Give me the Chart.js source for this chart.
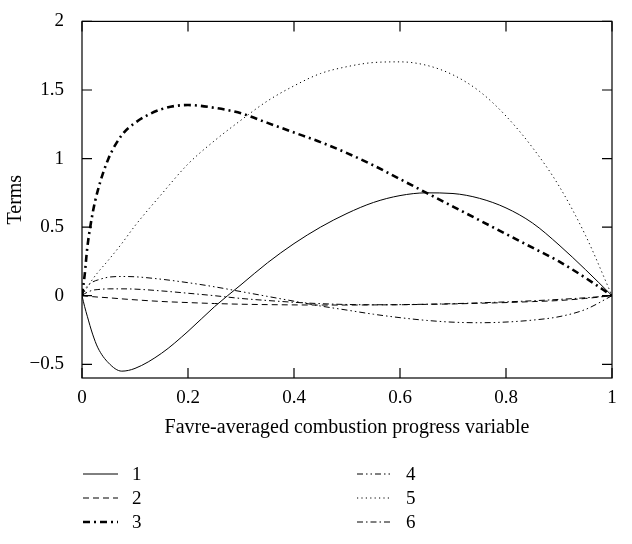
<!DOCTYPE html>
<html>
<head>
<meta charset="utf-8">
<script src="https://cdn.jsdelivr.net/npm/chart.js@4"></script>
<style>
  body { margin: 0; background: #fff; }
  #wrap { width: 632px; height: 544px; }
</style>
</head>
<body>
<div id="wrap"><canvas id="terms"></canvas></div>
<script>
const progress = [0, 0.005, 0.01, 0.02, 0.03, 0.05, 0.075, 0.1, 0.15, 0.2, 0.25, 0.3, 0.35, 0.4, 0.45, 0.5, 0.55, 0.6, 0.65, 0.7, 0.75, 0.8, 0.85, 0.9, 0.95, 1];

const term1 = [0, -0.08, -0.15, -0.28, -0.38, -0.49, -0.55, -0.53, -0.42, -0.26, -0.08, 0.08, 0.24, 0.38, 0.5, 0.6, 0.68, 0.73, 0.75, 0.745, 0.71, 0.64, 0.53, 0.37, 0.19, 0];
const term2 = [0, -0.002, -0.004, -0.007, -0.01, -0.015, -0.023, -0.03, -0.042, -0.05, -0.057, -0.062, -0.065, -0.067, -0.068, -0.068, -0.067, -0.066, -0.063, -0.06, -0.055, -0.05, -0.043, -0.035, -0.02, 0];
const term3 = [0, 0.15, 0.35, 0.6, 0.77, 1.0, 1.17, 1.26, 1.36, 1.39, 1.37, 1.33, 1.26, 1.19, 1.12, 1.04, 0.95, 0.85, 0.75, 0.65, 0.55, 0.45, 0.35, 0.25, 0.13, 0];
const term4 = [0, 0.04, 0.07, 0.1, 0.115, 0.135, 0.14, 0.138, 0.12, 0.095, 0.065, 0.03, -0.005, -0.04, -0.075, -0.105, -0.135, -0.16, -0.18, -0.193, -0.197, -0.192, -0.178, -0.153, -0.1, 0];
const term5 = [0, 0.03, 0.06, 0.12, 0.17, 0.26, 0.38, 0.51, 0.74, 0.96, 1.13, 1.28, 1.42, 1.53, 1.62, 1.67, 1.7, 1.705, 1.68, 1.61, 1.49, 1.31, 1.08, 0.8, 0.44, 0];
const term6 = [0, 0.015, 0.025, 0.04, 0.045, 0.05, 0.05, 0.048, 0.035, 0.018, 0, -0.02, -0.035, -0.048, -0.058, -0.064, -0.066, -0.065, -0.062, -0.058, -0.052, -0.045, -0.037, -0.027, -0.015, 0];

const seriesLabels = ["1", "2", "3", "4", "5", "6"];
const xTickValues = [0, 0.2, 0.4, 0.6, 0.8, 1];
const yTickValues = [-0.5, 0, 0.5, 1, 1.5, 2];

const FONT = "'Liberation Serif', 'DejaVu Serif', serif";

const styles = [
  { dash: [], width: 1 },
  { dash: [6, 4], width: 1 },
  { dash: [7, 4, 2, 4], width: 2.6 },
  { dash: [6, 3, 1.5, 3, 1.5, 3], width: 1 },
  { dash: [1.2, 3.2], width: 1 },
  { dash: [6, 3, 1.5, 3], width: 1 },
];

function toPoints(ys) {
  return progress.map((x, i) => ({ x: x, y: ys[i] }));
}

const datasets = [term1, term2, term3, term4, term5, term6].map((ys, i) => ({
  label: seriesLabels[i],
  data: toPoints(ys),
  borderColor: "#000",
  borderWidth: styles[i].width,
  borderDash: styles[i].dash,
  pointRadius: 0,
  cubicInterpolationMode: "monotone",
  fill: false,
}));

// frame, inward ticks and the legend under the axis title
const framePlugin = {
  id: "frame",
  afterDraw(chart) {
    const ctx = chart.ctx;
    const a = chart.chartArea;
    const xs = chart.scales.x;
    const ys = chart.scales.y;
    ctx.save();
    ctx.strokeStyle = "#000";
    ctx.lineWidth = 1.2;
    ctx.setLineDash([]);
    ctx.strokeRect(a.left, a.top, a.right - a.left, a.bottom - a.top);
    ctx.beginPath();
    xTickValues.forEach(v => {
      const px = xs.getPixelForValue(v);
      ctx.moveTo(px, a.bottom); ctx.lineTo(px, a.bottom - 10);
      ctx.moveTo(px, a.top); ctx.lineTo(px, a.top + 10);
    });
    yTickValues.forEach(v => {
      const py = ys.getPixelForValue(v);
      ctx.moveTo(a.left, py); ctx.lineTo(a.left + 10, py);
      ctx.moveTo(a.right, py); ctx.lineTo(a.right - 10, py);
    });
    ctx.stroke();

    const rows = [474, 498, 522];
    const cols = [{ x0: 83, x1: 118, tx: 132 }, { x0: 357, x1: 390, tx: 406 }];
    ctx.font = "19px " + FONT;
    ctx.fillStyle = "#000";
    ctx.textBaseline = "middle";
    chart.data.datasets.forEach((ds, i) => {
      const c = cols[Math.floor(i / 3)];
      const y = rows[i % 3];
      ctx.lineWidth = ds.borderWidth;
      ctx.setLineDash(ds.borderDash);
      ctx.beginPath();
      ctx.moveTo(c.x0, y);
      ctx.lineTo(c.x1, y);
      ctx.stroke();
      ctx.fillText(ds.label, c.tx, y + 1);
    });
    ctx.restore();
  },
};

new Chart(document.getElementById("terms"), {
  type: "line",
  data: { datasets: datasets },
  plugins: [framePlugin],
  options: {
    responsive: true,
    maintainAspectRatio: false,
    animation: false,
    layout: { padding: { top: 8, right: 20, bottom: 100, left: 0 } },
    plugins: { legend: { display: false }, tooltip: { enabled: false } },
    scales: {
      x: {
        type: "linear",
        min: 0,
        max: 1,
        afterBuildTicks: s => { s.ticks = xTickValues.map(v => ({ value: v })); },
        afterFit: s => { s.height = 66; },
        grid: { display: false },
        border: { display: false },
        ticks: {
          color: "#000",
          padding: 1,
          maxRotation: 0,
          font: { family: FONT, size: 19 },
          callback: v => String(v),
        },
        title: {
          display: true,
          text: "Favre-averaged combustion progress variable",
          color: "#000",
          font: { family: FONT, size: 20 },
        },
      },
      y: {
        min: -0.6,
        max: 2,
        afterBuildTicks: s => { s.ticks = yTickValues.map(v => ({ value: v })); },
        afterFit: s => { s.width = 82; },
        grid: { display: false },
        border: { display: false },
        ticks: {
          color: "#000",
          padding: 10,
          font: { family: FONT, size: 19 },
          callback: v => String(v).replace("-", "\u2212"),
        },
        title: {
          display: true,
          text: "Terms",
          color: "#000",
          font: { family: FONT, size: 20 },
        },
      },
    },
  },
});
</script>
</body>
</html>
